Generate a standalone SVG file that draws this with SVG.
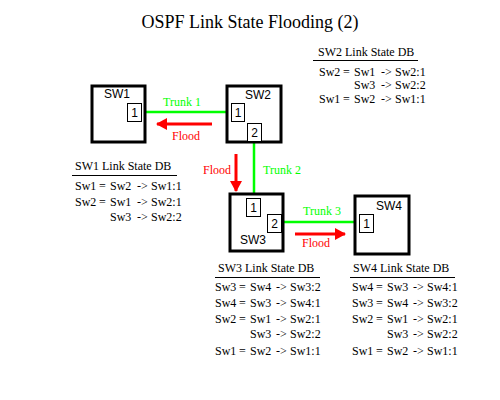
<svg xmlns="http://www.w3.org/2000/svg" width="500" height="400" viewBox="0 0 500 400">
<style>
.box{fill:#fff;stroke:#000;stroke-width:3}
.port{fill:#fff;stroke:#000;stroke-width:1}
.lbl{font-family:"Liberation Sans",Arial,sans-serif;font-size:12px;fill:#000}
.plbl{font-family:"Liberation Sans",Arial,sans-serif;font-size:12px;fill:#000;text-anchor:middle}
.serif{font-family:"Liberation Serif","Times New Roman",serif;font-size:12px;fill:#000}
.trunk{stroke:#00ff00;stroke-width:2.5;fill:none}
.tl{font-family:"Liberation Serif","Times New Roman",serif;font-size:12px;fill:#00ff00}
.flood{stroke:#ff0000;stroke-width:3;fill:none;marker-end:url(#ah)}
.fl{font-family:"Liberation Serif","Times New Roman",serif;font-size:12px;fill:#ff0000}
.ul{stroke:#000;stroke-width:1}
</style>
<defs>
<marker id="ah" markerUnits="userSpaceOnUse" markerWidth="12" markerHeight="12" viewBox="0 0 12 12" refX="10" refY="6" orient="auto">
<path d="M0,0 L11,6 L0,12 Z" fill="#ff0000"/>
</marker>
</defs>
<rect width="500" height="400" fill="#fff"/>
<text x="250" y="28" text-anchor="middle" font-family="Liberation Serif, Times New Roman, serif" font-size="18">OSPF Link State Flooding (2)</text>

<g id="connectors">
<line class="trunk" x1="146" y1="112" x2="227" y2="112"/>
<line class="trunk" x1="254" y1="143" x2="254" y2="194"/>
<line class="trunk" x1="283" y1="222" x2="356" y2="222"/>
<text class="tl" x="163" y="106">Trunk 1</text>
<text class="tl" x="263" y="174">Trunk 2</text>
<text class="tl" x="303" y="215">Trunk 3</text>
<line class="flood" x1="212" y1="124" x2="157" y2="124"/>
<line class="flood" x1="236" y1="154" x2="236" y2="191"/>
<line class="flood" x1="295" y1="234" x2="345" y2="234"/>
<text class="fl" x="172" y="140">Flood</text>
<text class="fl" x="203" y="174">Flood</text>
<text class="fl" x="302" y="247">Flood</text>
</g>

<g id="sw1">
<rect class="box" x="92" y="86" width="53" height="56"/>
<text class="lbl" x="104" y="98">SW1</text>
<rect class="port" x="127.5" y="103.5" width="14" height="18"/>
<text class="plbl" x="134.5" y="117">1</text>
</g>
<g id="sw2">
<rect class="box" x="227" y="86" width="54" height="56"/>
<text class="lbl" x="245" y="99">SW2</text>
<rect class="port" x="231.5" y="103.5" width="13" height="18"/>
<text class="plbl" x="238" y="117">1</text>
<rect class="port" x="247.5" y="123.5" width="14" height="18"/>
<text class="plbl" x="254.5" y="137">2</text>
</g>
<g id="sw3">
<rect class="box" x="230" y="194" width="53" height="57"/>
<text class="lbl" x="240" y="244">SW3</text>
<rect class="port" x="246.5" y="198.5" width="14" height="18"/>
<text class="plbl" x="253.5" y="212">1</text>
<rect class="port" x="267.5" y="214.5" width="14" height="18"/>
<text class="plbl" x="274.5" y="228">2</text>
</g>
<g id="sw4">
<rect class="box" x="355" y="196" width="54" height="58"/>
<text class="lbl" x="376" y="210">SW4</text>
<rect class="port" x="359.5" y="214.5" width="14" height="18"/>
<text class="plbl" x="366.5" y="228">1</text>
</g>

<g id="sw1-db" class="serif">
<text x="75" y="170">SW1 Link State DB</text>
<line class="ul" x1="72" y1="175.5" x2="177" y2="175.5"/>
<text y="190"><tspan x="75">Sw1</tspan><tspan x="99">=</tspan><tspan x="110">Sw2</tspan><tspan x="137">-&gt;</tspan><tspan x="151">Sw1:1</tspan></text>
<text y="206"><tspan x="75">Sw2</tspan><tspan x="99">=</tspan><tspan x="110">Sw1</tspan><tspan x="137">-&gt;</tspan><tspan x="151">Sw2:1</tspan></text>
<text y="221"><tspan x="110">Sw3</tspan><tspan x="137">-&gt;</tspan><tspan x="151">Sw2:2</tspan></text>
</g>
<g id="sw2-db" class="serif">
<text x="318" y="56">SW2 Link State DB</text>
<line class="ul" x1="313" y1="60.5" x2="418" y2="60.5"/>
<text y="76"><tspan x="319">Sw2</tspan><tspan x="343">=</tspan><tspan x="354">Sw1</tspan><tspan x="381">-&gt;</tspan><tspan x="395">Sw2:1</tspan></text>
<text y="89"><tspan x="354">Sw3</tspan><tspan x="381">-&gt;</tspan><tspan x="395">Sw2:2</tspan></text>
<text y="103"><tspan x="319">Sw1</tspan><tspan x="343">=</tspan><tspan x="354">Sw2</tspan><tspan x="381">-&gt;</tspan><tspan x="395">Sw1:1</tspan></text>
</g>
<g id="sw3-db" class="serif">
<text x="218" y="272">SW3 Link State DB</text>
<line class="ul" x1="215" y1="277.5" x2="320" y2="277.5"/>
<text y="291"><tspan x="215">Sw3</tspan><tspan x="239">=</tspan><tspan x="250">Sw4</tspan><tspan x="276">-&gt;</tspan><tspan x="290">Sw3:2</tspan></text>
<text y="307"><tspan x="215">Sw4</tspan><tspan x="239">=</tspan><tspan x="250">Sw3</tspan><tspan x="276">-&gt;</tspan><tspan x="290">Sw4:1</tspan></text>
<text y="323"><tspan x="215">Sw2</tspan><tspan x="239">=</tspan><tspan x="250">Sw1</tspan><tspan x="276">-&gt;</tspan><tspan x="290">Sw2:1</tspan></text>
<text y="338"><tspan x="250">Sw3</tspan><tspan x="276">-&gt;</tspan><tspan x="290">Sw2:2</tspan></text>
<text y="355"><tspan x="215">Sw1</tspan><tspan x="239">=</tspan><tspan x="250">Sw2</tspan><tspan x="276">-&gt;</tspan><tspan x="290">Sw1:1</tspan></text>
</g>
<g id="sw4-db" class="serif">
<text x="353" y="272">SW4 Link State DB</text>
<line class="ul" x1="350" y1="277.5" x2="455" y2="277.5"/>
<text y="291"><tspan x="352">Sw4</tspan><tspan x="376">=</tspan><tspan x="387">Sw3</tspan><tspan x="413">-&gt;</tspan><tspan x="427">Sw4:1</tspan></text>
<text y="307"><tspan x="352">Sw3</tspan><tspan x="376">=</tspan><tspan x="387">Sw4</tspan><tspan x="413">-&gt;</tspan><tspan x="427">Sw3:2</tspan></text>
<text y="323"><tspan x="352">Sw2</tspan><tspan x="376">=</tspan><tspan x="387">Sw1</tspan><tspan x="413">-&gt;</tspan><tspan x="427">Sw2:1</tspan></text>
<text y="338"><tspan x="387">Sw3</tspan><tspan x="413">-&gt;</tspan><tspan x="427">Sw2:2</tspan></text>
<text y="355"><tspan x="352">Sw1</tspan><tspan x="376">=</tspan><tspan x="387">Sw2</tspan><tspan x="413">-&gt;</tspan><tspan x="427">Sw1:1</tspan></text>
</g>
</svg>
